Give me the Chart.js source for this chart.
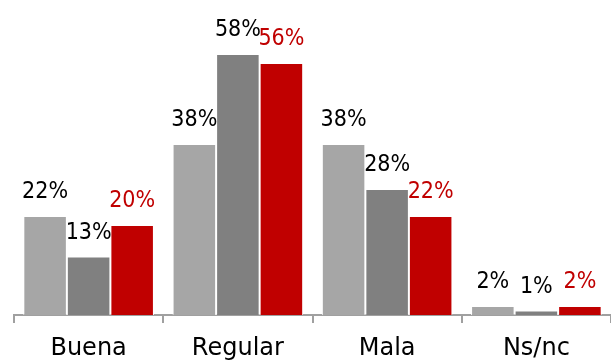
<!DOCTYPE html>
<html>
<head>
<meta charset="utf-8">
<script src="https://cdn.jsdelivr.net/npm/chart.js@4/dist/chart.umd.min.js"></script>
<style>
html,body{margin:0;padding:0;background:#fff;}
#wrap{width:611px;height:363px;}
</style>
</head>
<body>
<div id="wrap"><canvas id="c" width="611" height="363"></canvas></div>
<script>
const categories = ["Buena", "Regular", "Mala", "Ns/nc"];
const seriesA = [22, 38, 38, 2];
const seriesB = [13, 58, 28, 1];
const seriesC = [20, 56, 22, 2];
const FONT = "'DejaVu Sans Condensed', 'DejaVu Sans', sans-serif";
const AXFONT = "'DejaVu Sans', sans-serif";

const labelPlugin = {
  id: 'barLabels',
  afterDatasetsDraw(chart) {
    const ctx = chart.ctx;
    ctx.save();
    ctx.font = "23px " + FONT;
    ctx.textAlign = 'center';
    ctx.textBaseline = 'alphabetic';
    chart.data.datasets.forEach((ds, i) => {
      const meta = chart.getDatasetMeta(i);
      meta.data.forEach((bar, j) => {
        ctx.fillStyle = ds.labelColor;
        ctx.fillText(ds.data[j] + '%', bar.x, bar.y - 18);
      });
    });
    ctx.restore();
  }
};

new Chart(document.getElementById('c'), {
  type: 'bar',
  data: {
    labels: categories,
    datasets: [
      {data: seriesA, backgroundColor: '#A6A6A6', borderColor: '#FFFFFF', borderWidth: 1, labelColor: '#000000'},
      {data: seriesB, backgroundColor: '#808080', borderColor: '#FFFFFF', borderWidth: 1, labelColor: '#000000'},
      {data: seriesC, backgroundColor: '#C00000', borderColor: '#FFFFFF', borderWidth: 1, labelColor: '#C00000'}
    ]
  },
  options: {
    responsive: false,
    animation: false,
    devicePixelRatio: 1,
    layout: {padding: {left: 14, right: 0, top: 0, bottom: -12}},
    datasets: {bar: {categoryPercentage: 0.875, barPercentage: 1.0}},
    plugins: {legend: {display: false}, tooltip: {enabled: false}},
    scales: {
      y: {display: false, min: 0, max: 70},
      x: {
        grid: {drawOnChartArea: false, offset: true, tickLength: 8, color: '#A0A0A0', lineWidth: 2},
        border: {color: '#A0A0A0', width: 2},
        ticks: {color: '#000000', font: {size: 24, family: AXFONT}, padding: 11.6, maxRotation: 0}
      }
    }
  },
  plugins: [labelPlugin]
});
</script>
</body>
</html>
